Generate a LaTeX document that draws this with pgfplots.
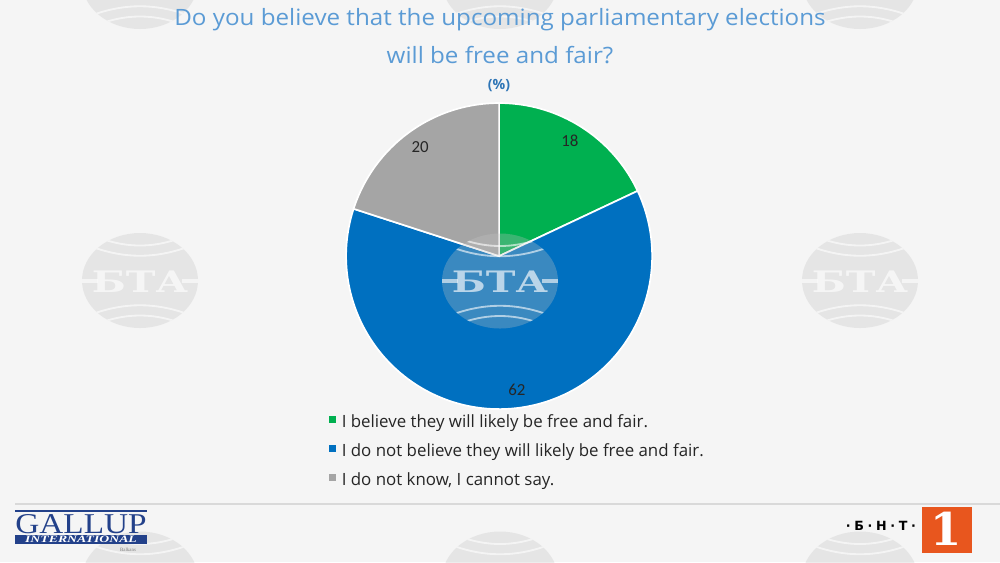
\documentclass[border=0pt]{standalone}
\usepackage{pgfplots}
\usepackage{pgfplotstable}
\pgfplotsset{compat=1.18}
\usepgfplotslibrary{polar}
\usepackage{fontspec}
\setmainfont{Open Sans}
\newfontfamily\lblfont{Carlito}
\newfontfamily\gserif{Liberation Serif}
\newfontfamily\dvsans{DejaVu Sans}
\newfontfamily\dvserif{DejaVu Serif}

\definecolor{bg}{HTML}{F5F5F5}
\definecolor{pgreen}{HTML}{00B050}
\definecolor{pblue}{HTML}{0070C0}
\definecolor{pgray}{HTML}{A5A5A5}
\definecolor{titleblue}{HTML}{5B9BD5}
\definecolor{pctblue}{HTML}{2E75B6}
\definecolor{txt}{HTML}{262626}
\definecolor{wmgray}{HTML}{C3C3C3}
\definecolor{gallupblue}{HTML}{23418A}
\definecolor{bntorange}{HTML}{E8561E}
\definecolor{rule}{HTML}{D9D9D9}

\pgfplotstableread{
label value
believe 18
notbelieve 62
dontknow 20
}\piedata
\pgfplotstablegetelem{0}{value}\of\piedata \let\va\pgfplotsretval
\pgfplotstablegetelem{1}{value}\of\piedata \let\vb\pgfplotsretval
\pgfplotstablegetelem{2}{value}\of\piedata \let\vc\pgfplotsretval
\pgfmathsetmacro\azero{90}
\pgfmathsetmacro\aone{\azero-3.6*\va}
\pgfmathsetmacro\atwo{\aone-3.6*\vb}
\pgfmathsetmacro\athree{\atwo-3.6*\vc}

\newcommand{\wm}[2]{%
  \begin{scope}[shift={(#1,#2)}]
    \fill[wmgray, opacity=0.3] (0,0) ellipse [x radius=58, y radius=47.5];
    \begin{scope}
      \clip (0,0) ellipse [x radius=58, y radius=47.5];
      \draw[white, opacity=0.6, line width=1.3pt] (-46,-33) .. controls (-15,-22) and (15,-22) .. (46,-33);
      \draw[white, opacity=0.6, line width=1.3pt] (-36,-41) .. controls (-12,-33) and (12,-33) .. (36,-41);
      \draw[white, opacity=0.6, line width=1.3pt] (-46,33) .. controls (-15,22) and (15,22) .. (46,33);
      \draw[white, opacity=0.6, line width=1.3pt] (-36,41) .. controls (-12,33) and (12,33) .. (36,41);
      \fill[white, opacity=0.6] (-60,-2) rectangle (-42,2);
      \fill[white, opacity=0.6] (42,-2) rectangle (60,2);
    \end{scope}
    \node[white, opacity=0.65, font=\dvserif\bfseries\fontsize{21}{21}\selectfont, xscale=1.35, inner sep=0pt] at (0,1) {БТА};
  \end{scope}}

\begin{document}
\begin{tikzpicture}[x=0.025cm, y=-0.025cm]
\fill[bg] (0,0) rectangle (1000,562);
\begin{scope}
\clip (0,0) rectangle (1000,562);
\wm{140}{-18.5}\wm{500}{-18.5}\wm{860}{-18.5}
\wm{140}{280.5}\wm{860}{280.5}
\wm{140}{579}\wm{500}{579}\wm{860}{579}
\end{scope}

% titles
\node[titleblue, font=\fontsize{16}{18}\selectfont, xscale=1.075] at (500,20) {Do you believe that the upcoming parliamentary elections};
\node[titleblue, font=\fontsize{16}{18}\selectfont, xscale=1.075] at (500,55) {will be free and fair?};
\node[pctblue, font=\bfseries\fontsize{10}{12}\selectfont] at (499,86) {(\%)};

\begin{polaraxis}[
  at={(12.475cm,-6.4cm)}, anchor=center,
  hide axis, scale only axis, width=7.65cm, height=7.65cm,
  ymin=0, ymax=1, clip=false,
  legend cell align=left,
  legend style={at={(-0.07,-0.005)}, anchor=north west, draw=none, fill=none,
    font=\fontsize{12}{13}\selectfont, text=txt, row sep=6.6pt,
    nodes={inner xsep=4pt, inner ysep=1pt, text height=9pt, text depth=3pt}},
  legend image code/.code={\fill[#1,draw=none] (0cm,0.02cm) rectangle (0.175cm,0.195cm);},
]
\addplot[fill=pgreen, draw=white, line width=1.2pt, domain=\aone:\azero, samples=60] {1} -- (axis cs:0,0) -- cycle;
\addlegendentry{I believe they will likely be free and fair.}
\addplot[fill=pblue, draw=white, line width=1.2pt, domain=\atwo:\aone, samples=120] {1} -- (axis cs:0,0) -- cycle;
\addlegendentry{I do not believe they will likely be free and fair.}
\addplot[fill=pgray, draw=white, line width=1.2pt, domain=\athree:\atwo, samples=60] {1} -- (axis cs:0,0) -- cycle;
\addlegendentry{I do not know, I cannot say.}
\node[txt, font=\lblfont\fontsize{12}{13}\selectfont] at (axis cs:58.5,0.885) {18};
\node[txt, font=\lblfont\fontsize{12}{13}\selectfont] at (axis cs:-82.4,0.88) {62};
\node[txt, font=\lblfont\fontsize{12}{13}\selectfont] at (axis cs:125.9,0.88) {20};
\end{polaraxis}

% watermark over pie
\wm{500}{281}

% bottom rule
\fill[rule] (15,503) rectangle (1000,505);

% Gallup logo
\draw[gallupblue, line width=0.8pt] (15,511) -- (147,511);
\node[gallupblue, font=\gserif\fontsize{20.4}{20.4}\selectfont, xscale=1.16, inner sep=0pt, anchor=base] at (81,533) {GALLUP};
\fill[gallupblue] (15,534.5) rectangle (147,543.5);
\node[white, font=\gserif\bfseries\itshape\fontsize{7}{7}\selectfont, xscale=1.4, inner sep=0pt] at (81,539.3) {INTERNATIONAL};
\node[gray, font=\gserif\fontsize{3.5}{3.5}\selectfont, inner sep=0pt] at (128,549.5) {Balkans};

% BNT logo
\node[black, font=\dvsans\bfseries\fontsize{9}{10}\selectfont, inner sep=0pt] at (881,525.5) {·\kern2.6pt Б\kern2.6pt·\kern2.6pt Н\kern2.6pt·\kern2.6pt Т\kern2.6pt·};
\fill[bntorange] (922,507) rectangle (972,553);
\node[white, font=\dvserif\bfseries\fontsize{32}{32}\selectfont, inner sep=0pt] at (946,529) {1};

\pgfresetboundingbox
\path[use as bounding box] (0,0) rectangle (1000,562);
\end{tikzpicture}
\end{document}
